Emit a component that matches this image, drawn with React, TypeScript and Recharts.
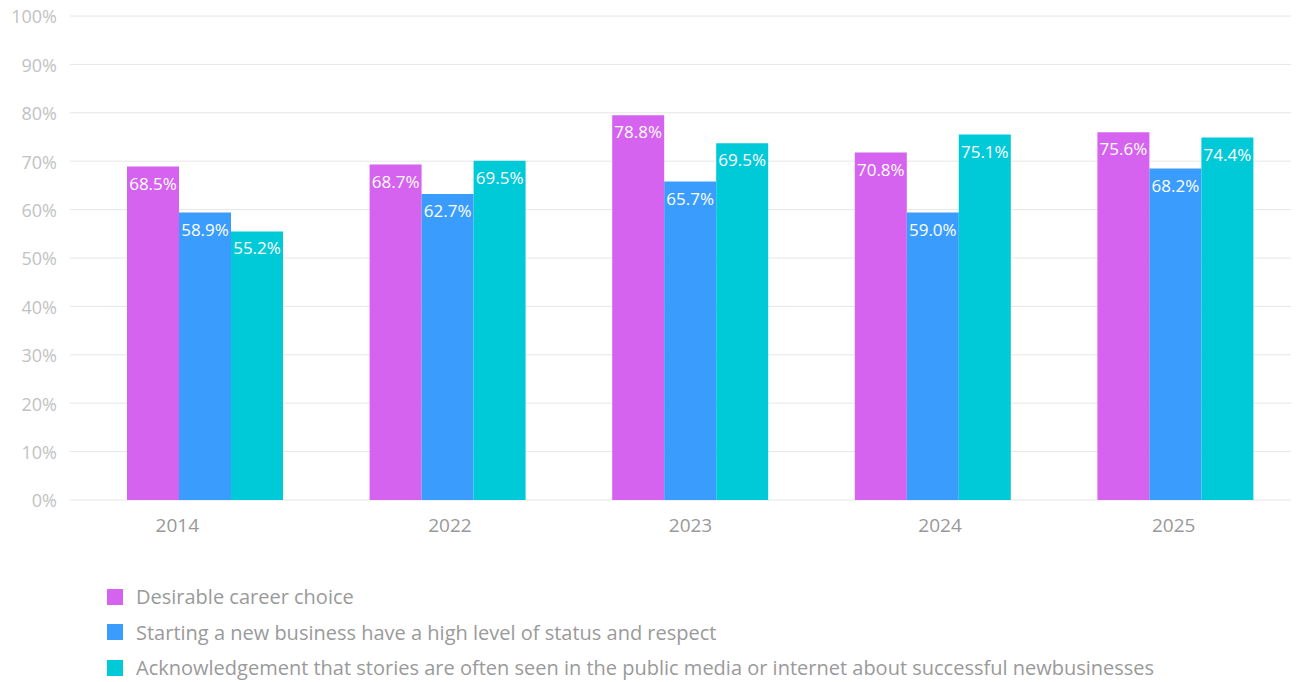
import { Bar, BarChart, CartesianGrid, LabelList, Legend, XAxis, YAxis } from "recharts";

const years = ["2014", "2022", "2023", "2024", "2025"];

// bar heights as drawn, and the labels printed on them
const career = [68.9, 69.3, 79.5, 71.8, 76.0];
const status = [59.4, 63.2, 65.8, 59.4, 68.5];
const media = [55.5, 70.1, 73.7, 75.5, 74.9];

const careerLabels = ["68.5%", "68.7%", "78.8%", "70.8%", "75.6%"];
const statusLabels = ["58.9%", "62.7%", "65.7%", "59.0%", "68.2%"];
const mediaLabels = ["55.2%", "69.5%", "69.5%", "75.1%", "74.4%"];

const yTicks = [0, 10, 20, 30, 40, 50, 60, 70, 80, 90, 100];

const series = [
  { key: "career", label: "careerLabel", name: "Desirable career choice", color: "#d563f0" },
  { key: "status", label: "statusLabel", name: "Starting a new business have a high level of status and respect", color: "#3a9cfc" },
  {
    key: "media",
    label: "mediaLabel",
    name: "Acknowledgement that stories are often seen in the public media or internet about successful newbusinesses",
    color: "#00cad8"
  }
];

const data = years.map((year, i) => ({
  year,
  career: career[i],
  status: status[i],
  media: media[i],
  careerLabel: careerLabels[i],
  statusLabel: statusLabels[i],
  mediaLabel: mediaLabels[i]
}));

const font = "'Open Sans', 'Noto Sans', sans-serif";

// the source nudges some year labels off their group centre
const tickShift = [-28, 2, 0, 7, -2];

function YearTick({ x, y, payload, index }: any) {
  return (
    <text x={x + (tickShift[index] ?? 0)} y={y} dy={14} textAnchor="middle" fill="#999" fontSize={19} fontFamily={font}>
      {payload.value}
    </text>
  );
}

function LegendList() {
  return (
    <div style={{ paddingLeft: 99, paddingTop: 19 }}>
      {series.map((s) => (
        <div key={s.key} style={{ display: "flex", alignItems: "center", height: 35.5 }}>
          <span style={{ width: 16, height: 16, background: s.color, display: "inline-block", marginRight: 13, flexShrink: 0 }} />
          <span style={{ fontFamily: font, fontSize: 20, color: "#9a9a9a", whiteSpace: "nowrap" }}>{s.name}</span>
        </div>
      ))}
    </div>
  );
}

export default function App() {
  return (
    <div style={{ width: 1291, height: 678, marginTop: -4 }}>
      <BarChart
        width={1291}
        height={678}
        data={data}
        margin={{ top: 12, right: 2, left: 0, bottom: 0 }}
        barGap={0}
        barCategoryGap={43}
      >
        <CartesianGrid vertical={false} stroke="#e6e6e6" />
        <XAxis
          dataKey="year"
          axisLine={false}
          tickLine={false}
          height={60}
          tickMargin={12}
          padding={{ left: 14, right: 0 }}
          tick={<YearTick />}
        />
        <YAxis
          domain={[0, 100]}
          ticks={yTicks}
          interval={0}
          axisLine={false}
          tickLine={false}
          tickSize={0}
          tickMargin={13}
          width={62}
          tickFormatter={(v) => `${v}%`}
          tick={{ fill: "#c2c2c2", fontSize: 18, fontFamily: font, dy: 1 }}
        />
        <Legend verticalAlign="bottom" align="left" height={122} content={<LegendList />} />
        {series.map((s) => (
          <Bar key={s.key} dataKey={s.key} name={s.name} fill={s.color} isAnimationActive={false}>
            <LabelList
              dataKey={s.label}
              position="insideTop"
              offset={11}
              fill="#ffffff"
              fontSize={17}
              fontFamily={font}
            />
          </Bar>
        ))}
      </BarChart>
    </div>
  );
}
